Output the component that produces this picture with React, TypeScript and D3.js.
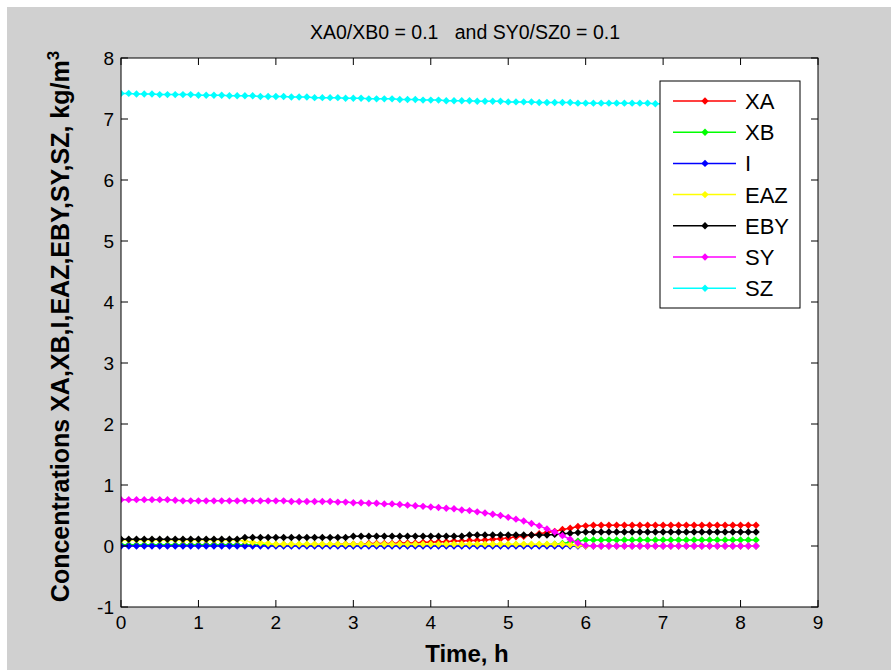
import React from "react";
import * as d3 from "d3";

const time = [0,0.1,0.2,0.3,0.4,0.5,0.6,0.7,0.8,0.9,1,1.1,1.2,1.3,1.4,1.5,1.6,1.7,1.8,1.9,2,2.1,2.2,2.3,2.4,2.5,2.6,2.7,2.8,2.9,3,3.1,3.2,3.3,3.4,3.5,3.6,3.7,3.8,3.9,4,4.1,4.2,4.3,4.4,4.5,4.6,4.7,4.8,4.9,5,5.1,5.2,5.3,5.4,5.5,5.6,5.7,5.8,5.9,6,6.1,6.2,6.3,6.4,6.5,6.6,6.7,6.8,6.9,7,7.1,7.2,7.3,7.4,7.5,7.6,7.7,7.8,7.9,8,8.1,8.2];

const XA = [0.01,0.01,0.01,0.01,0.01,0.01,0.01,0.01,0.02,0.02,
0.02,0.02,0.02,0.02,0.02,0.02,0.02,0.02,0.02,0.02,
0.02,0.02,0.02,0.02,0.02,0.02,0.02,0.02,0.03,0.03,
0.03,0.03,0.04,0.04,0.04,0.04,0.05,0.05,0.05,0.06,
0.06,0.07,0.07,0.08,0.08,0.09,0.09,0.10,0.11,0.12,
0.13,0.15,0.16,0.18,0.20,0.22,0.24,0.27,0.29,0.32,
0.33,0.34,0.34,0.34,0.34,0.34,0.34,0.34,0.34,0.34,
0.34,0.34,0.34,0.34,0.34,0.34,0.34,0.34,0.34,0.34,
0.34,0.34,0.34];

const XB = [0.02,0.02,0.02,0.02,0.02,0.02,0.02,0.02,0.02,0.02,
0.02,0.02,0.02,0.02,0.02,0.02,0.02,0.02,0.02,0.02,
0.02,0.02,0.02,0.02,0.02,0.02,0.02,0.02,0.02,0.02,
0.02,0.02,0.02,0.02,0.02,0.02,0.02,0.02,0.02,0.02,
0.02,0.02,0.02,0.02,0.02,0.02,0.02,0.02,0.02,0.02,
0.02,0.02,0.02,0.02,0.02,0.02,0.03,0.04,0.06,0.08,
0.10,0.10,0.10,0.10,0.10,0.10,0.10,0.10,0.10,0.10,
0.10,0.10,0.10,0.10,0.10,0.10,0.10,0.10,0.10,0.10,
0.10,0.10,0.10];

const I = [0,0,0,0,0,0,0,0,0,0,
0,0,0,0,0,0,0,0,0,0,
0,0,0,0,0,0,0,0,0,0,
0,0,0,0,0,0,0,0,0,0,
0,0,0,0,0,0,0,0,0,0,
0,0,0,0,0,0,0,0,0,0,
0,0,0,0,0,0,0,0,0,0,
0,0,0,0,0,0,0,0,0,0,
0,0,0];

const EAZ = [0.10,0.10,0.10,0.10,0.10,0.10,0.10,0.10,0.10,0.10,
0.10,0.10,0.10,0.10,0.10,0.10,0.08,0.06,0.05,0.04,
0.03,0.03,0.03,0.03,0.03,0.03,0.03,0.03,0.03,0.03,
0.03,0.03,0.03,0.03,0.03,0.03,0.03,0.03,0.03,0.03,
0.03,0.03,0.03,0.03,0.03,0.03,0.03,0.03,0.03,0.03,
0.03,0.03,0.03,0.03,0.03,0.03,0.03,0.03,0.02,0.01,
0,0,0,0,0,0,0,0,0,0,
0,0,0,0,0,0,0,0,0,0,
0,0,0];

const EBY = [0.11,0.11,0.11,0.11,0.11,0.11,0.11,0.11,0.11,0.11,
0.11,0.11,0.11,0.11,0.11,0.11,0.14,0.14,0.14,0.14,
0.14,0.14,0.14,0.14,0.14,0.14,0.14,0.14,0.14,0.14,
0.16,0.16,0.16,0.16,0.16,0.16,0.16,0.16,0.16,0.16,
0.16,0.16,0.16,0.16,0.16,0.18,0.18,0.18,0.18,0.18,
0.18,0.18,0.18,0.18,0.18,0.18,0.19,0.20,0.21,0.22,
0.23,0.23,0.23,0.23,0.23,0.23,0.23,0.23,0.23,0.23,
0.23,0.23,0.23,0.23,0.23,0.23,0.23,0.23,0.23,0.23,
0.23,0.23,0.23];

const SY = [0.76,0.76,0.76,0.76,0.76,0.76,0.76,0.75,0.74,0.74,
0.74,0.74,0.74,0.74,0.74,0.74,0.74,0.74,0.74,0.74,
0.74,0.74,0.73,0.73,0.73,0.73,0.73,0.73,0.72,0.72,
0.71,0.71,0.70,0.70,0.69,0.69,0.68,0.67,0.66,0.65,
0.64,0.63,0.62,0.61,0.59,0.58,0.56,0.54,0.52,0.50,
0.47,0.44,0.41,0.37,0.33,0.28,0.23,0.17,0.11,0.05,
0.01,0,0,0,0,0,0,0,0,0,
0,0,0,0,0,0,0,0,0,0,
0,0,0];

const SZ = [7.42,7.42,7.41,7.41,7.41,7.40,7.40,7.40,7.40,7.40,
7.39,7.39,7.39,7.39,7.38,7.38,7.38,7.38,7.37,7.37,
7.37,7.37,7.36,7.36,7.36,7.35,7.35,7.35,7.35,7.34,
7.34,7.34,7.33,7.33,7.33,7.33,7.32,7.32,7.32,7.31,
7.31,7.31,7.30,7.30,7.30,7.30,7.29,7.29,7.29,7.29,
7.28,7.28,7.28,7.28,7.27,7.27,7.27,7.27,7.27,7.26,
7.26,7.26,7.26,7.26,7.26,7.26,7.26,7.26,7.26,7.25,
7.25,7.25,7.25,7.25,7.25,7.25,7.25,7.25,7.25,7.25,
7.25,7.25,7.25];

const seriesNames = ["XA", "XB", "I", "EAZ", "EBY", "SY", "SZ"];
const seriesValues = [XA, XB, I, EAZ, EBY, SY, SZ];
const seriesColors = ["#ff0000", "#00ff00", "#0000ff", "#ffff00", "#000000", "#ff00ff", "#00ffff"];

const xTicks = [0,1,2,3,4,5,6,7,8,9];
const yTicks = [-1,0,1,2,3,4,5,6,7,8];

const W = 891, H = 670;
const L = 121, R = 818, T = 58, B = 607;

export default function App() {
  const x = d3.scaleLinear().domain([0, 9]).range([L, R]);
  const y = d3.scaleLinear().domain([-1, 8]).range([B, T]);
  const line = d3.line<number>().x((_, i) => x(time[i])).y(d => y(d));
  const font = "Arial, 'Liberation Sans', Helvetica, sans-serif";
  const diamond = (cx: number, cy: number, r: number) =>
    `M${cx},${cy - r}L${cx + r},${cy}L${cx},${cy + r}L${cx - r},${cy}Z`;
  const legX = 660, legY = 81, legW = 140, legH = 227;
  const legRow = (i: number) => 101 + i * 31.2;
  return (
    <svg width={W} height={H} style={{ position: "absolute", left: 0, top: 0 }} fontFamily={font}>
      <rect x={0} y={0} width={W} height={H} fill="#ffffff" />
      <rect x={7} y={7} width={W - 7} height={H - 7} fill="#d0d0d0" />
      <rect x={L} y={T} width={R - L} height={B - T} fill="#ffffff" />
      <defs>
        <clipPath id="plotclip">
          <rect x={L} y={T} width={R - L} height={B - T} />
        </clipPath>
      </defs>
      <g clipPath="url(#plotclip)">
        {seriesValues.map((vals, si) => (
          <g key={seriesNames[si]}>
            <path d={line(vals) || ""} fill="none" stroke={seriesColors[si]} strokeWidth={1.5} />
            {vals.map((v, i) => (
              <path key={i} d={diamond(x(time[i]), y(v), 3.7)} fill={seriesColors[si]} />
            ))}
          </g>
        ))}
      </g>
      <rect x={L} y={T} width={R - L} height={B - T} fill="none" stroke="#000" strokeWidth={1} />
      {xTicks.map(t => (
        <g key={"xt" + t}>
          <line x1={x(t)} x2={x(t)} y1={B} y2={B - 7} stroke="#000" />
          <line x1={x(t)} x2={x(t)} y1={T} y2={T + 7} stroke="#000" />
          <text x={x(t)} y={B + 22} textAnchor="middle" fontSize={19} fill="#000">{t}</text>
        </g>
      ))}
      {yTicks.map(t => (
        <g key={"yt" + t}>
          <line x1={L} x2={L + 7} y1={y(t)} y2={y(t)} stroke="#000" />
          <line x1={R} x2={R - 7} y1={y(t)} y2={y(t)} stroke="#000" />
          <text x={L - 7} y={y(t) + 7} textAnchor="end" fontSize={19} fill="#000">{t}</text>
        </g>
      ))}
      <text x={465} y={39} textAnchor="middle" fontSize={19.5} fill="#000" style={{ whiteSpace: "pre" }}>
        {"XA0/XB0 = 0.1   and SY0/SZ0 = 0.1"}
      </text>
      <text x={467} y={662} textAnchor="middle" fontSize={24} fontWeight="bold" fill="#000">Time, h</text>
      <text transform={`translate(69,${(T + B) / 2 - 6}) rotate(-90)`} textAnchor="middle" fontSize={25} fontWeight="bold" fill="#000">
        Concentrations XA,XB,I,EAZ,EBY,SY,SZ, kg/m
        <tspan dy={-10} fontSize={17}>3</tspan>
      </text>
      <rect x={legX} y={legY} width={legW} height={legH} fill="#ffffff" stroke="#000" strokeWidth={1} />
      {seriesNames.map((n, i) => (
        <g key={"lg" + n}>
          <line x1={673} x2={736} y1={legRow(i)} y2={legRow(i)} stroke={seriesColors[i]} strokeWidth={1.5} />
          <path d={diamond(705, legRow(i), 3.7)} fill={seriesColors[i]} />
          <text x={745} y={legRow(i) + 8} fontSize={22} fill="#000">{n}</text>
        </g>
      ))}
    </svg>
  );
}
